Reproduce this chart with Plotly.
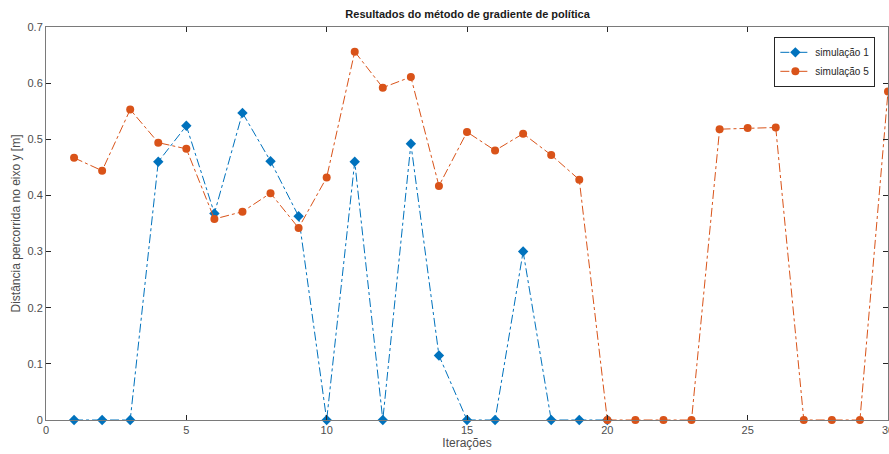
import plotly.graph_objects as go

iter_sim1 = list(range(1, 21))
sim1 = [0, 0, 0, 0.460, 0.524, 0.368, 0.547, 0.461, 0.363, 0,
        0.460, 0, 0.492, 0.115, 0, 0, 0.300, 0, 0, 0]

iter_sim5 = list(range(1, 31))
sim5 = [0.467, 0.444, 0.553, 0.494, 0.483, 0.358, 0.371, 0.404, 0.342, 0.432,
        0.656, 0.592, 0.611, 0.417, 0.513, 0.480, 0.510, 0.472, 0.428, 0,
        0, 0, 0, 0.518, 0.520, 0.521, 0, 0, 0, 0.585]

x_ticks = [0, 5, 10, 15, 20, 25, 30]
x_tick_labels = ["0", "5", "10", "15", "20", "25", "30"]
y_ticks = [0, 0.1, 0.2, 0.3, 0.4, 0.5, 0.6, 0.7]
y_tick_labels = ["0", "0.1", "0.2", "0.3", "0.4", "0.5", "0.6", "0.7"]

BLUE = "#0072BD"
ORANGE = "#D95319"
FONT = "Liberation Sans, Arial, sans-serif"

fig = go.Figure()
fig.add_trace(go.Scatter(
    x=iter_sim1, y=sim1, name="simulação 1", mode="lines+markers",
    line=dict(color=BLUE, width=1, dash="dashdot"),
    marker=dict(symbol="diamond", size=8, color=BLUE),
    cliponaxis=False,
))
fig.add_trace(go.Scatter(
    x=iter_sim5, y=sim5, name="simulação 5", mode="lines+markers",
    line=dict(color=ORANGE, width=1, dash="dashdot"),
    marker=dict(symbol="circle", size=8, color=ORANGE),
    cliponaxis=False,
))

axis_common = dict(
    showgrid=False, zeroline=False, showline=True, mirror="ticks",
    linecolor="#7a7a7a", linewidth=1, ticks="inside", ticklen=5,
    tickcolor="#262626", tickwidth=1, automargin=False,
    tickfont=dict(family=FONT, size=11, color="#4d4d4d"),
)

fig.update_layout(
    width=889, height=454,
    margin=dict(l=46, r=1, t=27, b=34),
    paper_bgcolor="white", plot_bgcolor="white",
    font=dict(family=FONT, color="#262626"),
    title=dict(text="<b>Resultados do método de gradiente de política</b>",
               x=0.526, xanchor="center", y=0.977, yanchor="top",
               font=dict(family=FONT, size=11, color="#1a1a1a")),
    xaxis=dict(range=[0, 30], tickvals=x_ticks, ticktext=x_tick_labels,
               title=dict(text="Iterações", standoff=3,
                          font=dict(family=FONT, size=12, color="#4d4d4d")),
               **axis_common),
    yaxis=dict(range=[0, 0.7], tickvals=y_ticks, ticktext=y_tick_labels,
               title=dict(text="Distância percorrida no eixo y [m]", standoff=4,
                          font=dict(family=FONT, size=12, color="#4d4d4d")),
               **axis_common),
    legend=dict(x=0.985, xanchor="right", y=0.975, yanchor="top",
                bgcolor="white", bordercolor="#262626", borderwidth=1,
                font=dict(family=FONT, size=10, color="#262626"),
                itemwidth=30, tracegroupgap=0),
    showlegend=True,
)

# last x tick label (partly cut by the figure edge, as in the reference)
fig.add_annotation(x=x_ticks[-1], xref="x", y=0, yref="paper", yanchor="top",
                   yshift=-2, xanchor="center", text=x_tick_labels[-1],
                   showarrow=False, font=dict(family=FONT, size=11, color="#4d4d4d"))

fig.write_html(
    "out.html",
    config={"displayModeBar": False},
    post_script="document.body.style.margin='0';document.body.style.overflow='hidden';",
)
